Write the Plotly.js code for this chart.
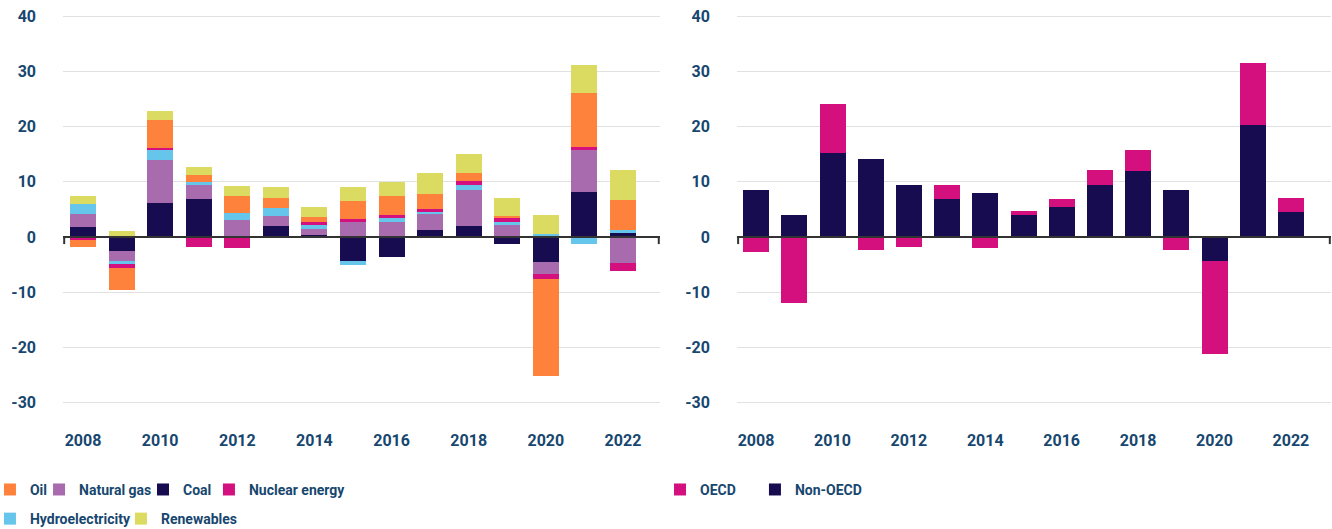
<!DOCTYPE html>
<html>
<head>
<meta charset="utf-8">
<script src="https://cdn.plot.ly/plotly-3.0.1.min.js"></script>
<style>
  html, body { margin: 0; padding: 0; background: #ffffff; }
  #chart { width: 1332px; height: 529px; }
</style>
</head>
<body>
<div id="chart"></div>
<script>
// ---- data ----
var years = [2008, 2009, 2010, 2011, 2012, 2013, 2014, 2015, 2016, 2017, 2018, 2019, 2020, 2021, 2022];

// left panel: change by fuel
var oil        = [-1.3, -4.0, 5.0, 1.27, 3.1, 1.8, 1.0, 3.26, 3.45, 2.7, 1.45, 0.36, -17.7, 9.8, 5.43];
var naturalGas = [2.4, -2.0, 7.8, 2.55, 2.85, 1.8, 1.1, 2.7, 2.7, 2.9, 6.5, 2.17, -2.17, 7.6, -4.7];
var coal       = [1.8, -2.5, 6.15, 6.9, 0.25, 2.0, 0.36, -4.35, -3.55, 1.27, 2.0, -1.27, -4.5, 8.15, 0.72];
var nuclear    = [-0.5, -0.72, 0.42, -1.8, -2.0, 0, 0.36, 0.55, 0.36, 0.55, 0.72, 0.72, -0.9, 0.55, -1.45];
var hydro      = [1.75, -0.36, 1.8, 0.55, 1.27, 1.45, 0.8, -0.72, 0.9, 0.36, 0.9, 0.55, 0.55, -1.27, 0.55];
var renewables = [1.45, 1.1, 1.63, 1.45, 1.8, 2.0, 1.8, 2.55, 2.55, 3.8, 3.44, 3.26, 3.44, 5.07, 5.43];

// right panel: change by region
var oecd    = [-2.7, -11.9, 8.9, -2.35, -1.8, 2.5, -2.0, 0.72, 1.45, 2.7, 3.8, -2.35, -16.8, 11.2, 2.5];
var nonOecd = [8.5, 4.0, 15.2, 14.1, 9.4, 6.9, 8.0, 4.0, 5.43, 9.4, 11.95, 8.5, -4.35, 20.3, 4.5];

var yTicks = [-30, -20, -10, 0, 10, 20, 30, 40];
var xTicks = [2008, 2010, 2012, 2014, 2016, 2018, 2020, 2022];

// ---- styling ----
var C = {
  oil: '#FF823C', gas: '#A86BAD', coal: '#160C4F', nuclear: '#D4107F',
  hydro: '#66C5EB', renew: '#DADB60', text: '#17476F', grid: '#e1e1e1', axis: '#333333'
};
var FONT = 'Roboto, "Open Sans", sans-serif';

function barTrace(name, y, color, xa, ya, legend, w) {
  return {
    type: 'bar', name: name, x: years, y: y,
    xaxis: xa, yaxis: ya, width: w,
    marker: { color: color, line: { width: 0 } },
    legend: legend, hoverinfo: 'x+y+name'
  };
}

var data = [
  // stacking order bottom-up: coal, gas, hydro, nuclear, oil, renewables
  barTrace('Coal', coal, C.coal, 'x', 'y', 'legend3', 0.675),
  barTrace('Natural gas', naturalGas, C.gas, 'x', 'y', 'legend2', 0.675),
  barTrace('Hydroelectricity', hydro, C.hydro, 'x', 'y', 'legend5', 0.675),
  barTrace('Nuclear energy', nuclear, C.nuclear, 'x', 'y', 'legend4', 0.675),
  barTrace('Oil', oil, C.oil, 'x', 'y', 'legend', 0.675),
  barTrace('Renewables', renewables, C.renew, 'x', 'y', 'legend6', 0.675),
  barTrace('Non-OECD', nonOecd, C.coal, 'x2', 'y2', 'legend8', 0.68),
  barTrace('OECD', oecd, C.nuclear, 'x2', 'y2', 'legend7', 0.68)
];

var tickFont = { family: FONT, size: 16, color: C.text, weight: 700 };
var legFont = { family: FONT, size: 14, color: C.text, weight: 700 };

function yAxis(anchor) {
  return {
    anchor: anchor, range: [-33, 40.4], tickmode: 'array', tickvals: yTicks,
    ticktext: yTicks.map(String),
    showgrid: true, gridcolor: C.grid, gridwidth: 1.2,
    zeroline: false, showline: false, ticks: '',
    tickfont: tickFont, ticklabelstandoff: 26, fixedrange: true
  };
}
function xAxis(domain, range, anchor) {
  return {
    domain: domain, range: range, anchor: anchor,
    tickmode: 'array', tickvals: xTicks, ticktext: xTicks.map(String),
    showgrid: false, zeroline: false, showline: false, ticks: '',
    tickfont: tickFont, ticklabelstandoff: 10, fixedrange: true
  };
}

function axisShapes(xr, yr) {
  return [
    { type: 'line', xref: xr + ' domain', yref: yr, x0: 0, x1: 1, y0: 0, y1: 0,
      line: { color: C.axis, width: 2 }, layer: 'above' },
    { type: 'line', xref: xr + ' domain', yref: yr, x0: 0.002, x1: 0.002, y0: 0, y1: -1.3,
      line: { color: C.axis, width: 2 }, layer: 'above' },
    { type: 'line', xref: xr + ' domain', yref: yr, x0: 0.998, x1: 0.998, y0: 0, y1: -1.3,
      line: { color: C.axis, width: 2 }, layer: 'above' }
  ];
}

function leg(x, y) {
  return {
    orientation: 'h', font: legFont, bgcolor: 'rgba(0,0,0,0)', borderwidth: 0,
    xanchor: 'left', yanchor: 'middle', itemwidth: 30, traceorder: 'normal',
    itemclick: false, itemdoubleclick: false, x: x, y: y
  };
}

var ROW1 = -0.175, ROW2 = -0.247;

var layout = {
  width: 1332, height: 529,
  margin: { l: 63, r: 1, t: 14, b: 110, autoexpand: false },
  paper_bgcolor: '#ffffff', plot_bgcolor: '#ffffff',
  barmode: 'relative', bargap: 0,
  showlegend: true,
  font: { family: FONT, color: C.text },
  xaxis: xAxis([0, 0.4708], [2007.48, 2022.96], 'y'),
  yaxis: yAxis('x'),
  xaxis2: xAxis([0.5315, 1], [2007.5, 2023.05], 'y2'),
  yaxis2: yAxis('x2'),
  legend:  leg(-0.0576, ROW1),   // Oil
  legend2: leg(-0.0189, ROW1),   // Natural gas
  legend3: leg(0.0631, ROW1),    // Coal
  legend4: leg(0.1151, ROW1),    // Nuclear energy
  legend5: leg(-0.0576, ROW2),   // Hydroelectricity
  legend6: leg(0.0457, ROW2),    // Renewables
  legend7: leg(0.4708, ROW1),    // OECD
  legend8: leg(0.5457, ROW1),    // Non-OECD
  shapes: axisShapes('x', 'y').concat(axisShapes('x2', 'y2'))
};

Plotly.newPlot('chart', data, layout, { displayModeBar: false, responsive: false });
</script>
</body>
</html>
